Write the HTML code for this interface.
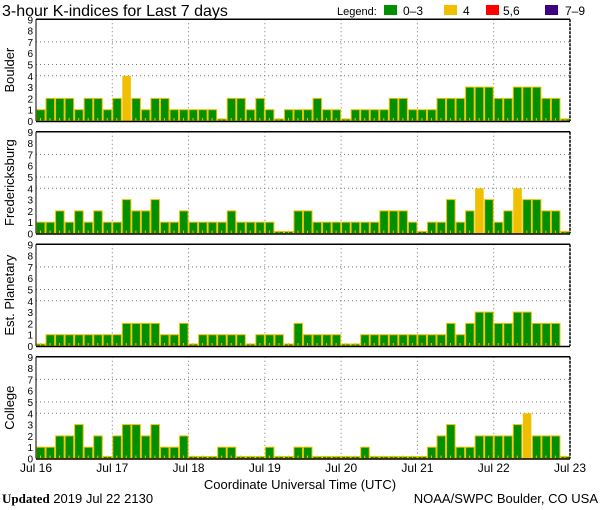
<!DOCTYPE html>
<html><head><meta charset="utf-8"><style>
body{margin:0;background:#fff;width:600px;height:510px;overflow:hidden}
svg{display:block;font-family:"Liberation Sans",sans-serif}
</style></head><body>
<svg id="c" width="600" height="510" xmlns="http://www.w3.org/2000/svg">
<text x="2" y="16" font-size="16" fill="#000">3-hour K-indices for Last 7 days</text>
<g>
<text x="337" y="15" font-size="11">Legend:</text>
<rect x="384" y="5" width="13" height="10" fill="#009000"/>
<text x="403" y="15" font-size="12">0–3</text>
<rect x="444" y="5" width="13" height="10" fill="#f0c000"/>
<text x="463" y="15" font-size="12">4</text>
<rect x="486" y="5" width="13" height="10" fill="#ff0000"/>
<text x="503" y="15" font-size="12">5,6</text>
<rect x="545" y="5" width="13" height="10" fill="#400080"/>
<text x="565" y="15" font-size="12">7–9</text>
</g>
<text x="300" y="489" font-size="13" text-anchor="middle">Coordinate Universal Time (UTC)</text>
<text x="2" y="503" font-size="13"><tspan font-family="Liberation Serif,serif" font-weight="bold">Updated</tspan> 2019 Jul 22 2130</text>
<text x="598" y="503" font-size="13" text-anchor="end">NOAA/SWPC Boulder, CO USA</text>
</svg>
<script>
const panelNames = ["Boulder","Fredericksburg","Est. Planetary","College"];
const dayLabels = ["Jul 16","Jul 17","Jul 18","Jul 19","Jul 20","Jul 21","Jul 22","Jul 23"];
const yTicks = [0,1,2,3,4,5,6,7,8,9];
const gridLevels = [4,5,7];
const boulder = [1,2,2,2,1,2,2,1,2,4,2,1,2,2,1,1,1,1,1,0,2,2,1,2,1,0,1,1,
 1,2,1,1,0,1,1,1,1,2,2,1,1,1,2,2,2,3,3,3,2,2,3,3,3,2,2,0];
const fredericksburg = [1,1,2,1,2,1,2,1,1,3,2,2,3,1,1,2,1,1,1,1,2,1,1,1,1,0,0,2,
 2,1,1,1,1,1,1,1,2,2,2,1,0,1,1,3,1,2,4,3,1,2,4,3,3,2,2,0];
const planetary = [0,1,1,1,1,1,1,1,1,2,2,2,2,1,1,2,0,1,1,1,1,1,0,1,1,1,0,2,
 1,1,1,1,0,0,1,1,1,1,1,1,1,1,1,2,1,2,3,3,2,2,3,3,2,2,2,null];
const college = [1,1,2,2,3,1,2,0,2,3,3,2,3,1,1,2,0,0,0,1,1,0,0,0,1,0,0,1,
 1,0,0,0,0,0,1,0,0,0,0,0,0,1,2,3,1,1,2,2,2,2,3,4,2,2,2,0];
const series = [boulder,fredericksburg,planetary,college];

const svg = document.getElementById('c');
const NS = 'http://www.w3.org/2000/svg';
const X0 = 36, X1 = 570, NB = 56;
const panelZero = [121, 233.5, 346, 458.5];
const unit = 11.3;
const xScale = i => X0 + (X1 - X0) * i / NB;
function mk(tag, attrs, parent){const e=document.createElementNS(NS,tag);for(const k in attrs)e.setAttribute(k,attrs[k]);(parent||svg).appendChild(e);return e;}
function color(v){return v<=3?'#009000':v===4?'#f0c000':v<=6?'#ff0000':'#400080';}

series.forEach((vals, p) => {
  const z = panelZero[p];
  const yScale = v => z - v * unit;
  const g = mk('g', {});
  
  
  const top = yScale(9);
  gridLevels.forEach(l => {
    const ln = mk('line', {x1:X0, x2:X1, y1:yScale(l), y2:yScale(l), stroke:'#777', 'stroke-dasharray':'1,3'}, g);
    
    
  });
  for (let d = 1; d < 7; d++) {
    const x = xScale(d*8);
    const ln = mk('line', {x1:x, x2:x, y1:top, y2:z, stroke:'#777', 'stroke-dasharray':'1,3'}, g);
    
    
  }
  const bw = (X1 - X0) / NB;
  vals.forEach((v, i) => {
    if (v === null) return;
    const x = xScale(i);
    const h = Math.max(v * unit, 2);
    const r = mk('rect', {x:x+0.5, y:z-h, width:bw-1, height:h, fill:color(v), stroke: v===4 ? 'none' : '#f0c000', 'stroke-width':1}, g);
    
    
    const t = mk('rect', {x:x+4, y:z-3, width:1, height:3, fill:'#f0c000'}, g);
    
    
  });
  const f1 = mk('line', {x1:X0, x2:X1, y1:top, y2:top, stroke:'#000', 'stroke-width':1.5}, g);
  
  
  const f2 = mk('line', {x1:X0, x2:X1, y1:z+0.5, y2:z+0.5, stroke:'#000', 'stroke-width':1.5}, g);
  
  
  const f3 = mk('line', {x1:X0, x2:X0, y1:top, y2:z, stroke:'#000', 'stroke-width':1}, g);
  
  
  const f4 = mk('line', {x1:X1, x2:X1, y1:top, y2:z, stroke:'#000', 'stroke-width':1.5, 'stroke-dasharray':'3,1'}, g);
  
  
  yTicks.forEach(t => {
    const tx = mk('text', {x:33, y:yScale(t)+4, 'font-size':10, 'text-anchor':'end'}, g);
    tx.textContent = t;
    
    
  });
  const cy = (top + z) / 2;
  const lb = mk('text', {x:14, y:cy, 'font-size':13, 'text-anchor':'middle', transform:`rotate(-90 14 ${cy})`}, g);
  lb.textContent = panelNames[p];
  
  
});
dayLabels.forEach((d, i) => {
  const t = mk('text', {x:xScale(i*8), y:472, 'font-size':12, 'text-anchor':'middle'});
  t.textContent = d;
  
  
});
</script>
</body></html>
